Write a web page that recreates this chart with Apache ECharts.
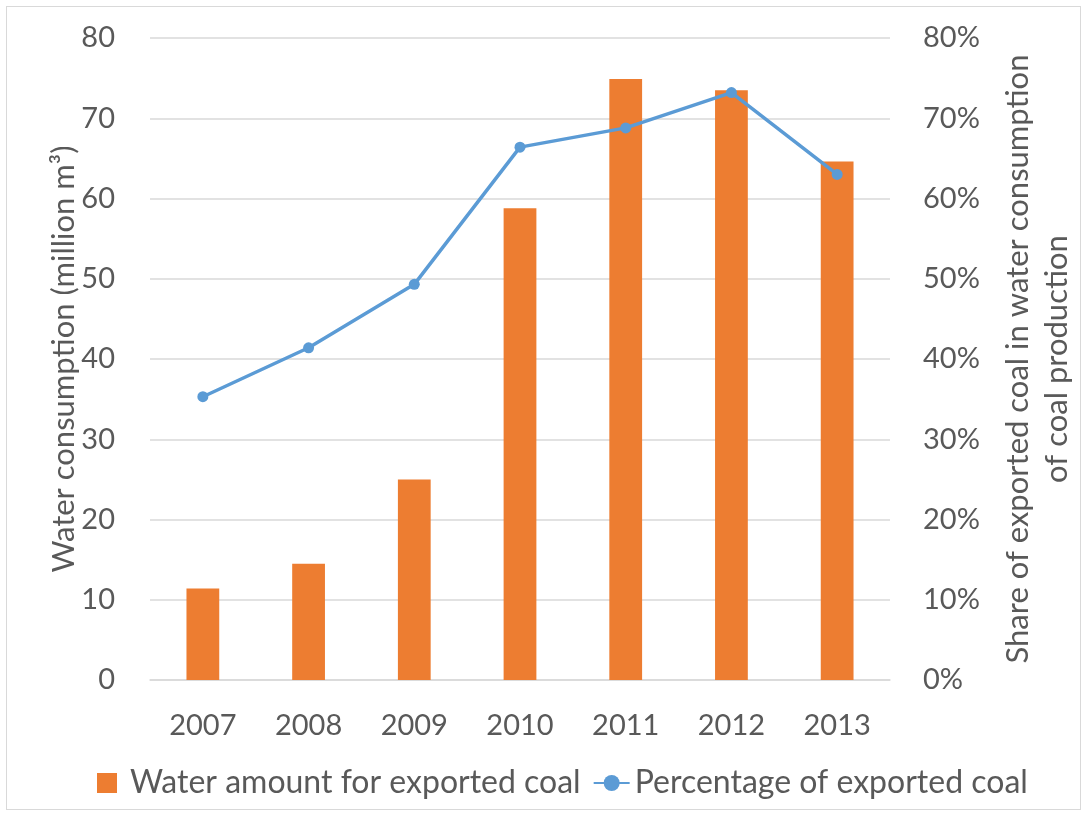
<!DOCTYPE html>
<html><head><meta charset="utf-8">
<script src="https://cdn.jsdelivr.net/npm/echarts@6/dist/echarts.min.js"></script>
<style>
html,body{margin:0;padding:0;background:#fff;}
#frame{position:absolute;left:6px;top:6px;width:1075px;height:804px;border:1px solid #d9d9d9;box-sizing:border-box;}
#c{position:absolute;left:0;top:0;width:1087px;height:816px;}
</style></head>
<body><div id="frame"></div><div id="c"></div>
<script>
const years = ['2007','2008','2009','2010','2011','2012','2013'];
const waterAmount = [11.4, 14.5, 25.0, 58.8, 74.9, 73.5, 64.6];
const exportShare = [35.3, 41.4, 49.3, 66.4, 68.8, 73.2, 63.0];
const leftTicks = [0, 10, 20, 30, 40, 50, 60, 70, 80];
const rightTicks = ['0%','10%','20%','30%','40%','50%','60%','70%','80%'];

const font = 'Lato, "Open Sans", sans-serif';
const txt = '#595959';
const chart = echarts.init(document.getElementById('c'));
chart.setOption({
  animation: false,
  textStyle: {fontFamily: font},
  grid: {left: 150, right: 197, top: 38, bottom: 136},
  legend: {
    bottom: 12, left: 92, itemGap: 12, itemWidth: 36, itemHeight: 20, itemTextGap: 1,
    symbolKeepAspect: true,
    textStyle: {fontSize: 32, color: txt, fontFamily: font},
    data: [
      {name: 'Water amount for exported coal', icon: 'path://M0,0H10V10H0Z'},
      {name: 'Percentage of exported coal'}
    ]
  },
  xAxis: {
    type: 'category', data: years,
    axisLine: {lineStyle: {color: '#d9d9d9', width: 1.5}},
    axisTick: {show: false},
    axisLabel: {fontSize: 29, color: txt, margin: 31}
  },
  yAxis: [
    {
      type: 'value', min: 0, max: 80, interval: 10,
      name: 'Water consumption (million m³)', nameLocation: 'middle', nameGap: 71, nameRotate: 90,
      nameMoveOverlap: false,
      nameTextStyle: {fontSize: 31, color: txt},
      axisLabel: {fontSize: 29, color: txt, margin: 35,
        formatter: v => String(leftTicks[Math.round(v / 10)])},
      splitLine: {lineStyle: {color: '#d9d9d9', width: 1.5}},
      axisLine: {show: false}, axisTick: {show: false}
    },
    {
      type: 'value', min: 0, max: 80, interval: 10, position: 'right',
      name: 'Share of exported coal in water consumption\nof coal production',
      nameLocation: 'middle', nameGap: 108, nameRotate: 90,
      nameTextStyle: {fontSize: 31, color: txt, lineHeight: 39},
      axisLabel: {fontSize: 29, color: txt, margin: 33,
        formatter: v => rightTicks[Math.round(v / 10)]},
      splitLine: {show: false}, axisLine: {show: false}, axisTick: {show: false}
    }
  ],
  series: [
    {
      name: 'Water amount for exported coal', type: 'bar', data: waterAmount,
      barWidth: '31%', itemStyle: {color: '#ed7d31'}
    },
    {
      name: 'Percentage of exported coal', type: 'line', yAxisIndex: 1, data: exportShare,
      symbol: 'circle', symbolSize: 11,
      lineStyle: {color: '#5b9bd5', width: 3.5}, itemStyle: {color: '#5b9bd5'}
    }
  ]
});
</script></body></html>
